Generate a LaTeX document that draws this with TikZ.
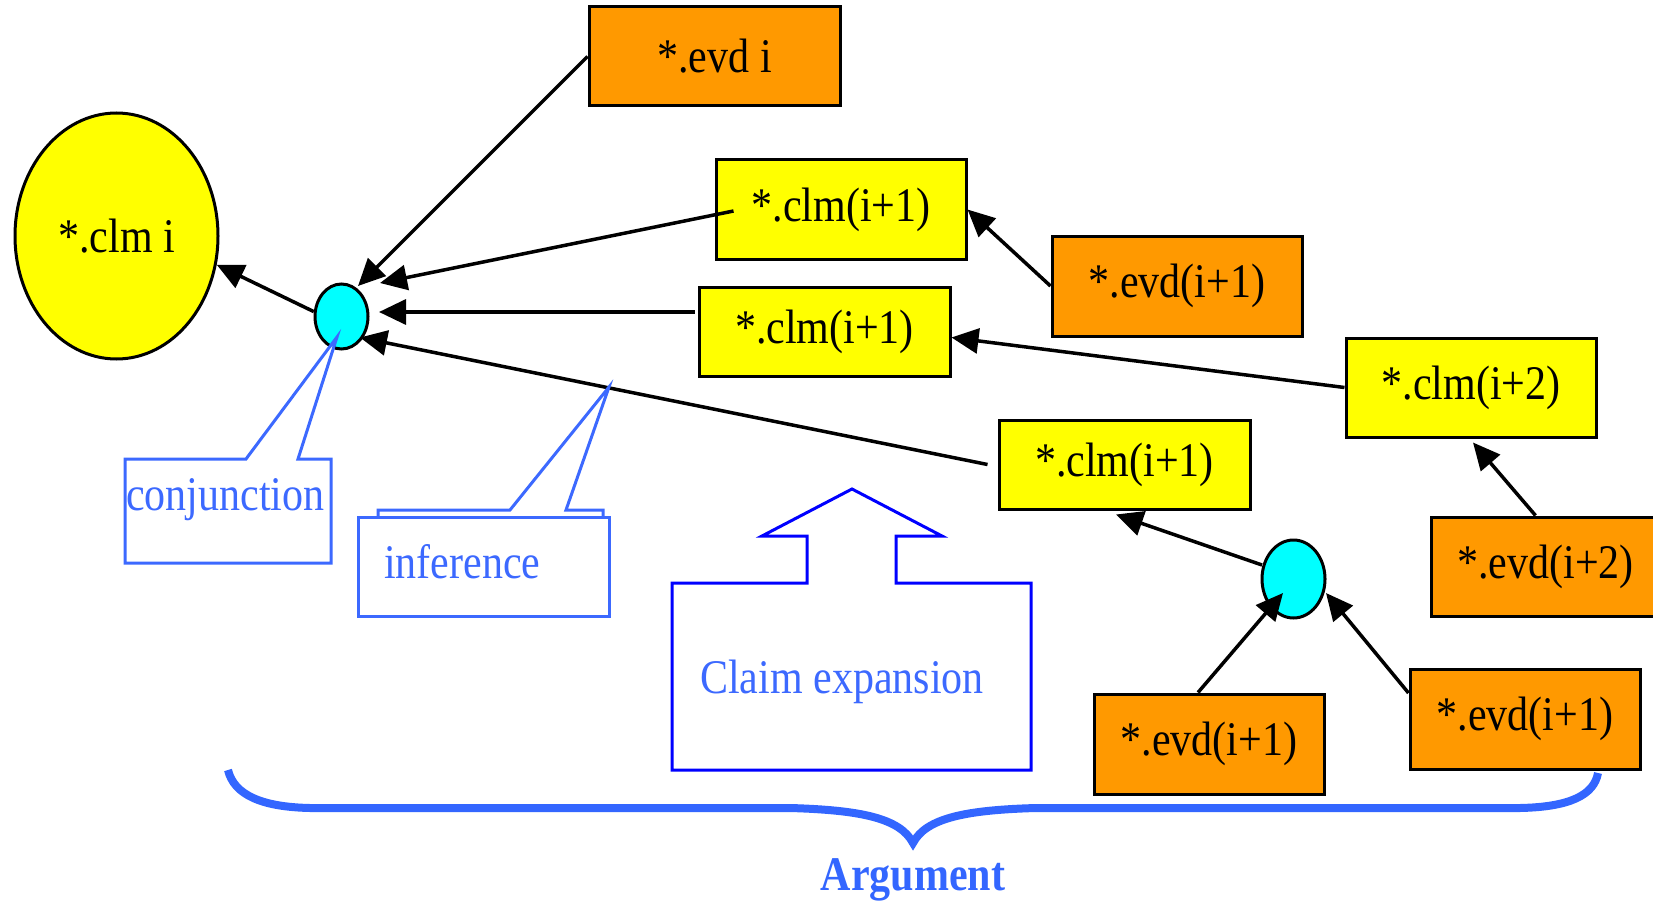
\documentclass[tikz,border=0pt]{standalone}
\usepackage{graphicx}
\usepackage{fontspec}
\setmainfont{Liberation Serif}
\usetikzlibrary{arrows.meta,calc,shapes.geometric}
\definecolor{orng}{RGB}{255,153,0}
\definecolor{yel}{RGB}{255,255,0}
\definecolor{cyn}{RGB}{0,255,255}
\definecolor{lblue}{RGB}{60,105,255}
\definecolor{pblue}{RGB}{0,0,255}
\definecolor{bblue}{RGB}{51,102,255}
\newcommand{\vstr}[1]{\scalebox{1}[1.15]{#1}}
\begin{document}
\begin{tikzpicture}[x=1pt,y=-1pt,
  box/.style={draw=black,line width=3pt,inner sep=0pt,font=\fontsize{42}{48}\selectfont},
  evdbox/.style={box,fill=orng},
  clmbox/.style={box,fill=yel},
  conj/.style={ellipse,draw=black,line width=3pt,fill=cyn,inner sep=0pt},
  arr/.style={line width=3.5pt,-{Triangle[length=27pt,width=25pt]}},
  callout/.style={draw=lblue,line width=3pt,fill=white,line join=miter},
  lbl/.style={text=lblue,inner sep=0pt,font=\fontsize{42}{48}\selectfont}]
\useasboundingbox (0,0) rectangle (1653,904);

% nodes
\node[conj,fill=yel,minimum width=203pt,minimum height=246pt,font=\fontsize{42}{48}\selectfont] (clmi) at (116.5,236) {\vstr{*.clm i}};
\node[conj,minimum width=53pt,minimum height=65pt] (c1) at (341.5,316.5) {};
\node[conj,minimum width=63pt,minimum height=78pt] (c2) at (1293.5,579) {};

\node[evdbox,minimum width=251pt,minimum height=99pt] (evdi) at (714.5,56.5) {\vstr{*.evd i}};
\node[clmbox,minimum width=250pt,minimum height=99pt] (A) at (841,209.5) {\vstr{*.clm(i+1)}};
\node[evdbox,minimum width=250pt,minimum height=100pt] (E1) at (1177,286) {\vstr{*.evd(i+1)}};
\node[clmbox,minimum width=251pt,minimum height=89pt] (B) at (824.5,331.5) {\vstr{*.clm(i+1)}};
\node[clmbox,minimum width=250pt,minimum height=99pt] (D) at (1471,387.5) {\vstr{*.clm(i+2)}};
\node[clmbox,minimum width=251pt,minimum height=89pt] (C) at (1124.5,464.5) {\vstr{*.clm(i+1)}};
\node[evdbox,minimum width=229pt,minimum height=99pt] (F) at (1545.5,566.5) {\vstr{*.evd(i+2)}};
\node[evdbox,minimum width=230pt,minimum height=100pt] (G) at (1209,744) {\vstr{*.evd(i+1)}};
\node[evdbox,minimum width=230pt,minimum height=100pt] (H) at (1525,719) {\vstr{*.evd(i+1)}};

% connectors
\draw[arr] (c1.170) -- (clmi.-16);
\draw[arr] (evdi.west) -- ($(c1)+(16.5,-30.5)$);
\draw[arr] ($(A.west)+(19,1.5)$) -- ($(c1)+(38.5,-33.5)$);
\draw[arr] ($(B.west)+(-3,-19.5)$) -- ($(c1)+(37.5,-4.5)$);
\draw[arr] ($(C.west)+(-10,0)$) -- ($(c1)+(18.5,21)$);
\draw[arr] (E1.west) -- (A.east);
\draw[arr] (D.west) -- ($(B.east)+(0,6)$);
\draw[arr] ($(F.north)+(-10,0)$) -- ($(D.south)+(2,4)$);
\draw[arr] ($(c2)+(-31.5,-14)$) -- ($(C.south)+(-8.5,4)$);
\draw[arr] ($(G.north)+(-11,0)$) -- ($(c2)+(-10.5,14)$);
\draw[arr] ($(H.west)+(0,-26)$) -- ($(c2)+(32.5,14)$);

% callout: conjunction
\draw[callout] (125,459) -- (246,459) -- ($(c1)+(-4.5,20.5)$) -- (298,459) -- (331,459) -- (331,563) -- (125,563) -- cycle;
\node[lbl,anchor=base west] (tconj) at (126,510) {\vstr{conjunction}};

% callout: inference
\coordinate (inftip) at (609,387);
\draw[callout] (378,517) -- (378,510) -- (510,510) -- (inftip) -- (566,510) -- (603,510) -- (603,517);
\draw[callout] (358,517) rectangle (609,616);
\node[lbl,anchor=base west] (tinf) at (384,578) {\vstr{inference}};

% claim expansion
\draw[draw=pblue,line width=3pt] (672,583) -- (807,583) -- (807,536) -- (762,536) -- (852,489) -- (942,536) -- (896,536) -- (896,583) -- (1031,583) -- (1031,770) -- (672,770) -- cycle;
\node[lbl,anchor=base west] (tclaim) at (700,693) {\vstr{Claim expansion}};

% brace
\draw[bblue,line width=8pt] (228,770) .. controls (234,795) and (262,807) .. (310,808) -- (790,808)
  .. controls (860,810) and (900,818) .. (913,843)
  .. controls (926,818) and (966,810) .. (1036,808) -- (1520,808)
  .. controls (1570,807) and (1594,795) .. (1598,773);
\node[text=bblue,inner sep=0pt,anchor=base,font=\bfseries\fontsize{42}{48}\selectfont] (targ) at (913,890) {\vstr{Argument}};
\end{tikzpicture}
\end{document}
